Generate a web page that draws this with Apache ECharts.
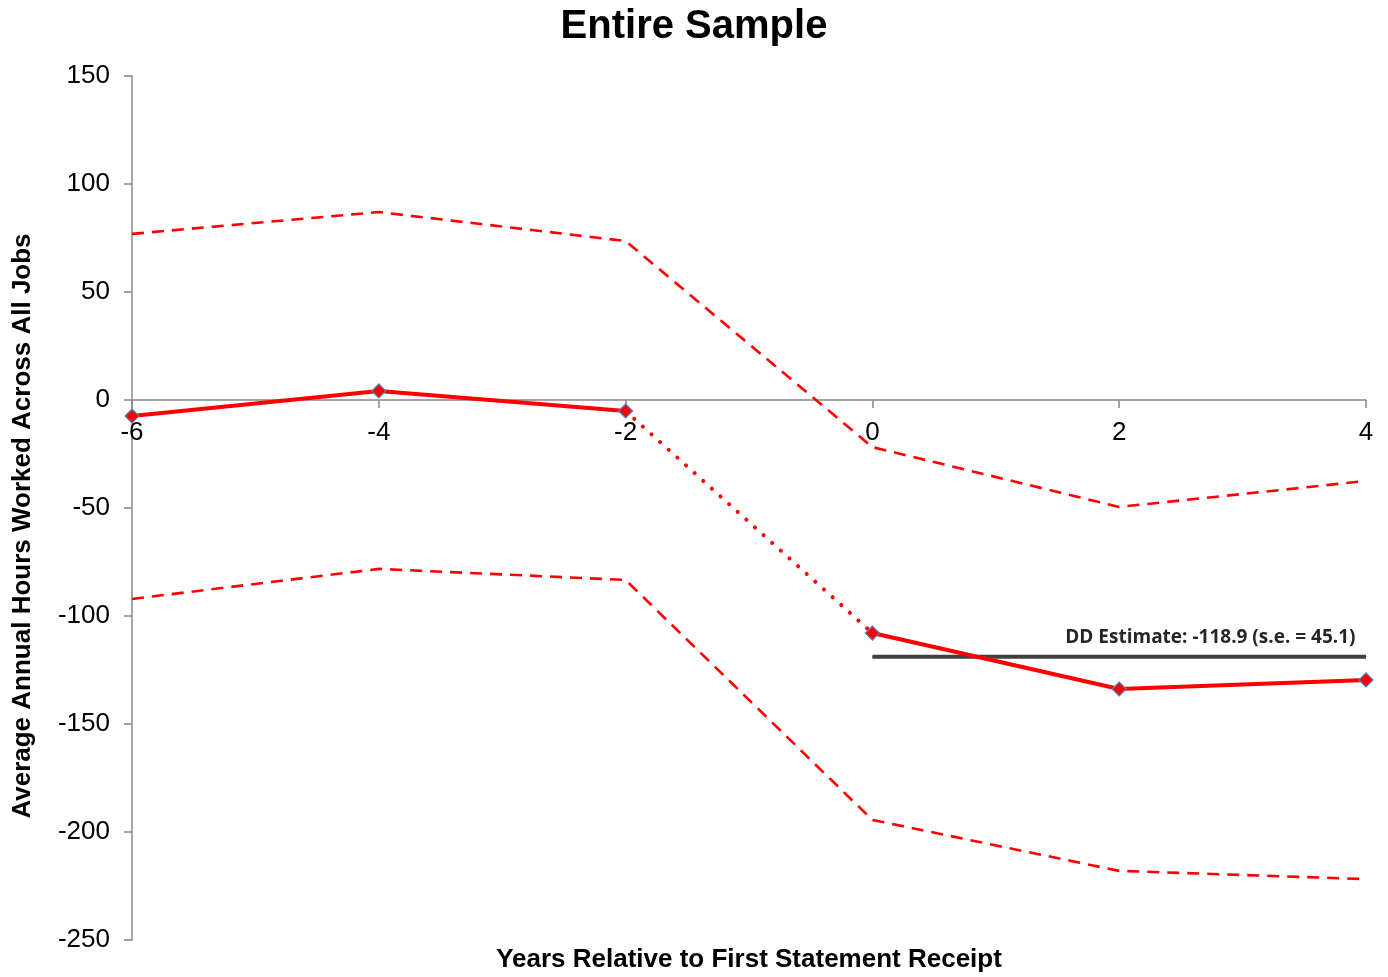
<!DOCTYPE html>
<html>
<head>
<meta charset="utf-8">
<script src="https://cdn.jsdelivr.net/npm/echarts@6/dist/echarts.min.js"></script>
<style>
html,body{margin:0;padding:0;background:#fff;}
#chart{width:1388px;height:977px;}
</style>
</head>
<body>
<div id="chart"></div>
<script>
// Event-time years and estimated coefficients
const years = [-6, -4, -2, 0, 2, 4];
const estimate = [-7.4, 4.2, -5.1, -107.9, -133.8, -129.6];
const upperCI = [76.9, 87.0, 73.6, -21.8, -49.5, -37.5];
const lowerCI = [-92.1, -78.2, -83.3, -194.4, -218.0, -221.8];
// Difference-in-differences estimate over the post period
const ddValue = -118.9;
const ddSE = 45.1;
const ddYears = [0, 4];

const yMin = -250, yMax = 150, yStep = 50;
const xMin = -6, xMax = 4, xStep = 2;

const pair = (xs, ys) => xs.map((x, i) => [x, ys[i]]);
const pre = pair(years.slice(0, 3), estimate.slice(0, 3));
const post = pair(years.slice(3), estimate.slice(3));
const bridge = [pre[pre.length - 1], post[0]];

const RED = '#ff0000';
const font = '"Liberation Sans", Arial, sans-serif';
const marker = {
  symbol: 'diamond', symbolSize: 14,
  itemStyle: { color: RED, borderColor: '#4f81bd', borderWidth: 1.2 }
};

// Plot area and the vertical shift that puts the horizontal axis on y = 0
const W = 1388, H = 977;
const grid = { left: 132, right: 22, top: 76, bottom: 37 };
const plotH = H - grid.top - grid.bottom;
const zeroShift = -plotH * (0 - yMin) / (yMax - yMin);

const ddData = ddYears.map((x, i) => {
  const item = { value: [x, ddValue] };
  if (i === ddYears.length - 1) {
    item.label = {
      show: true, position: 'left', distance: 10, offset: [0, -19],
      formatter: 'DD Estimate: ' + ddValue.toFixed(1) + ' (s.e. = ' + ddSE.toFixed(1) + ')',
      fontFamily: '"Open Sans", "Noto Sans", sans-serif', fontSize: 19, fontWeight: 'bold',
      color: '#262626'
    };
  }
  return item;
});

const chart = echarts.init(document.getElementById('chart'));
chart.setOption({
  animation: false,
  backgroundColor: '#fff',
  title: {
    text: 'Entire Sample', left: 'center', top: 2,
    textStyle: { fontFamily: font, fontSize: 40, fontWeight: 'bold', color: '#000' }
  },
  grid: Object.assign({ outerBoundsMode: 'none', containLabel: false }, grid),
  xAxis: [
    {
      type: 'value', min: xMin, max: xMax, interval: xStep,
      position: 'bottom', offset: zeroShift,
      axisLine: { onZero: false, lineStyle: { color: '#888', width: 1.5 } },
      axisTick: { show: true, length: 8, lineStyle: { color: '#888', width: 1.5 } },
      axisLabel: { fontFamily: font, fontSize: 26, color: '#000', margin: 20 },
      splitLine: { show: false }
    },
    {
      type: 'value', min: xMin, max: xMax, interval: xStep,
      position: 'bottom',
      name: 'Years Relative to First Statement Receipt',
      nameLocation: 'middle', nameGap: 7,
      nameTextStyle: { fontFamily: font, fontSize: 26, fontWeight: 'bold', color: '#000' },
      axisLine: { show: false, onZero: false },
      axisTick: { show: false },
      axisLabel: { show: false },
      splitLine: { show: false }
    }
  ],
  yAxis: {
    type: 'value', min: yMin, max: yMax, interval: yStep,
    name: 'Average Annual Hours Worked Across All Jobs',
    nameLocation: 'middle', nameGap: 96, nameRotate: 90,
    nameTextStyle: { fontFamily: font, fontSize: 26, fontWeight: 'bold', color: '#000',
      padding: [0, 36, 0, 0] },
    axisLine: { show: true, onZero: false, lineStyle: { color: '#888', width: 1.5 } },
    axisTick: { show: true, length: 8, lineStyle: { color: '#888', width: 1.5 } },
    axisLabel: { fontFamily: font, fontSize: 26, color: '#000', margin: 22 },
    splitLine: { show: false }
  },
  series: [
    {
      type: 'line', data: pair(years, upperCI), showSymbol: false, silent: true,
      lineStyle: { color: RED, width: 2.6, type: [12, 8] }, z: 2
    },
    {
      type: 'line', data: pair(years, lowerCI), showSymbol: false, silent: true,
      lineStyle: { color: RED, width: 2.6, type: [12, 8] }, z: 2
    },
    {
      type: 'line', data: bridge, showSymbol: false, silent: true,
      lineStyle: { color: RED, width: 4, type: [0.1, 11.5], cap: 'round' }, z: 3
    },
    {
      type: 'line', data: ddData, symbol: 'circle', symbolSize: 1, showAllSymbol: true,
      silent: true, itemStyle: { color: '#404040' },
      lineStyle: { color: '#404040', width: 4 }, z: 4
    },
    Object.assign({
      type: 'line', data: pre, silent: true, showAllSymbol: true,
      lineStyle: { color: RED, width: 4 }, z: 5
    }, marker),
    Object.assign({
      type: 'line', data: post, silent: true, showAllSymbol: true,
      lineStyle: { color: RED, width: 4 }, z: 5
    }, marker)
  ]
});
</script>
</body>
</html>
